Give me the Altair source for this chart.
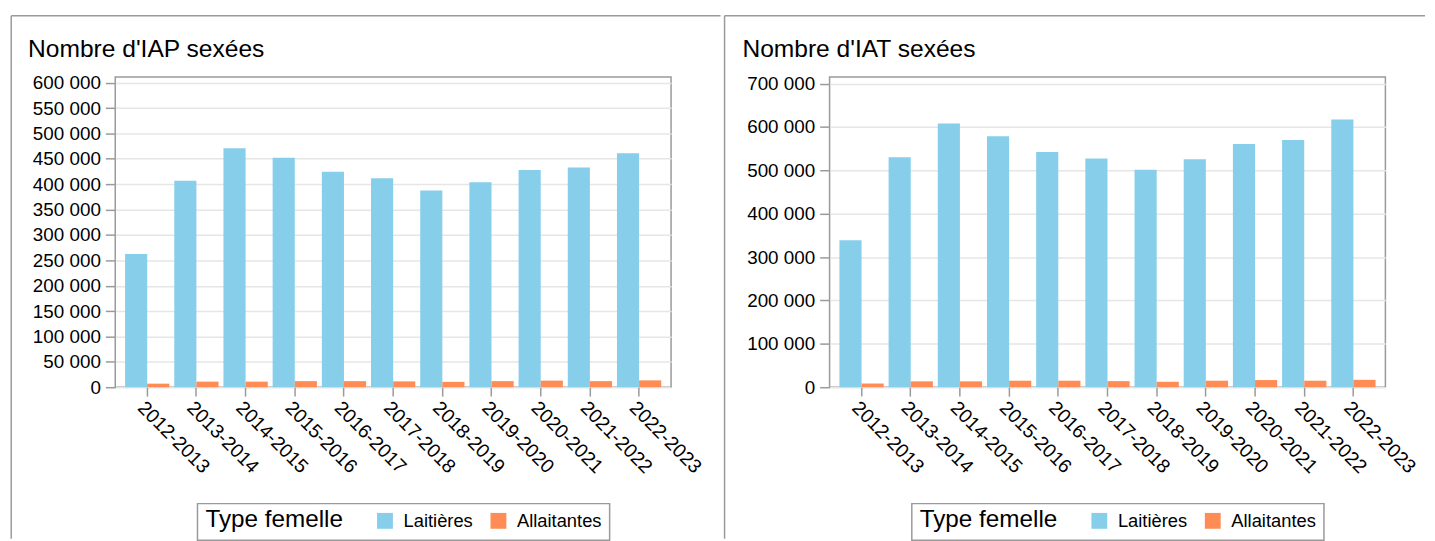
import altair as alt
import pandas as pd

campagnes = ["2012-2013", "2013-2014", "2014-2015", "2015-2016", "2016-2017",
             "2017-2018", "2018-2019", "2019-2020", "2020-2021", "2021-2022", "2022-2023"]
types = ["Laitières", "Allaitantes"]

iap_laitieres = [262500, 406700, 471000, 452000, 424300, 411800, 387600, 403900, 428200, 432700, 461200]
iap_allaitantes = [7000, 11000, 11000, 12000, 12000, 11500, 10500, 12000, 13000, 12000, 13500]
iat_laitieres = [338900, 530400, 608200, 578400, 542500, 527400, 501400, 525800, 560800, 569900, 617200]
iat_allaitantes = [8500, 13500, 13500, 15000, 15000, 14000, 12500, 15000, 16500, 15000, 17000]

iap_ticks = list(range(0, 600001, 50000))
iat_ticks = list(range(0, 700001, 100000))

FONT = "Liberation Sans"
FRAME = "#9a9a9a"
GRID = "#e6e6e6"
BLUE = "#87CEEB"
ORANGE = "#FF8C55"
LABEL_EXPR = "replace(format(datum.value, ','), ',', ' ')"


def long_df(lait, allait):
    rows = []
    for c, v in zip(campagnes, lait):
        rows.append({"Campagne": c, "Type femelle": "Laitières", "Nombre": v})
    for c, v in zip(campagnes, allait):
        rows.append({"Campagne": c, "Type femelle": "Allaitantes", "Nombre": v})
    return pd.DataFrame(rows)


one = pd.DataFrame({"k": [0]})


def panel(df, title, ymax, yticks, bx, top_x2, border_bottom=466):
    bars = alt.Chart(df).mark_bar().encode(
        x=alt.X("Campagne:N", sort=campagnes,
                scale=alt.Scale(paddingInner=0.1, paddingOuter=0.2),
                axis=alt.Axis(title=None, labelAngle=45, labelFontSize=19.5, tickSize=9,
                              grid=False, domain=False, labelPadding=2)),
        xOffset=alt.XOffset("Type femelle:N", sort=types,
                            scale=alt.Scale(paddingInner=0, paddingOuter=0)),
        y=alt.Y("Nombre:Q", scale=alt.Scale(domain=[0, ymax], nice=False, zero=True),
                axis=alt.Axis(title=None, values=yticks, labelExpr=LABEL_EXPR,
                              labelFontSize=19, tickSize=10, labelPadding=5,
                              domain=False, grid=True)),
        color=alt.Color("Type femelle:N", sort=types,
                        scale=alt.Scale(domain=types, range=[BLUE, ORANGE]),
                        legend=alt.Legend(orient="none", legendX=83, legendY=430.5,
                                          direction="horizontal", titleOrient="left",
                                          title="Type femelle", titleFontSize=24.5,
                                          titleFontWeight="normal", titleFont=FONT,
                                          titleColor="#000", titlePadding=33,
                                          labelFontSize=18.5, labelFont=FONT,
                                          labelColor="#000", labelOffset=9.5,
                                          symbolType="square", symbolSize=256,
                                          symbolStrokeWidth=0, columnPadding=16.5,
                                          padding=8, strokeColor=FRAME,
                                          fillColor="white")),
    )
    ttl = alt.Chart(one).mark_text(align="left", baseline="alphabetic", fontSize=24.8,
                                   font=FONT, color="#000").encode(
        x=alt.value(-88), y=alt.value(-20.7), text=alt.value(title))
    left_rule = alt.Chart(one).mark_rule(color=FRAME, strokeWidth=1.5).encode(
        x=alt.value(bx), y=alt.value(-62), y2=alt.value(border_bottom))
    top_rule = alt.Chart(one).mark_rule(color=FRAME, strokeWidth=1.5).encode(
        x=alt.value(bx), x2=alt.value(top_x2), y=alt.value(-62))
    return alt.layer(bars, ttl, left_rule, top_rule).properties(width=561, height=313)


left = panel(long_df(iap_laitieres, iap_allaitantes), "Nombre d'IAP sexées", 611000, iap_ticks, -105, 611)
right = panel(long_df(iat_laitieres, iat_allaitantes), "Nombre d'IAT sexées", 715000, iat_ticks, -106, 601)

chart = alt.hconcat(left, right, spacing=0).resolve_scale(
    x="independent", y="independent", color="independent", xOffset="independent"
).resolve_legend(color="independent").properties(
    padding={"left": 1.25, "top": 3.25, "right": 0, "bottom": 0},
    background="white",
).configure_view(
    stroke=FRAME, strokeWidth=1.5
).configure_axis(
    labelFont=FONT, labelColor="#000", tickColor=FRAME, tickWidth=1.5,
    gridColor=GRID, gridWidth=1.5
).configure_legend(
    strokeWidth=1.5
)

chart.save("out.html", embed_options={"renderer": "svg", "actions": False})
